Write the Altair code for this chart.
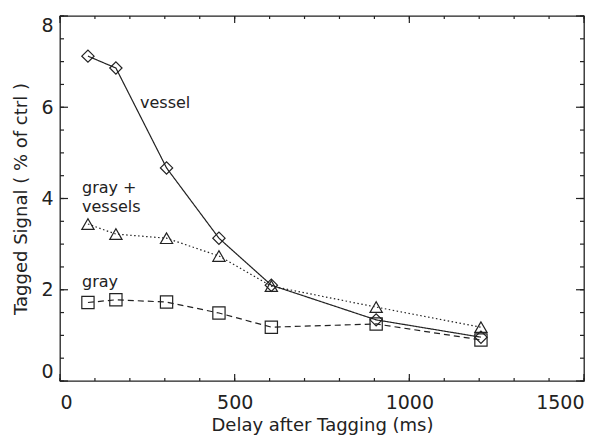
import altair as alt
import pandas as pd

# ---- data ----
delay = [80, 160, 305, 455, 605, 905, 1205]
vessel = [7.12, 6.86, 4.67, 3.13, 2.10, 1.34, 0.96]
gray_vessels = [3.44, 3.22, 3.13, 2.74, 2.08, 1.62, 1.18]
gray = [1.72, 1.78, 1.73, 1.49, 1.18, 1.25, 0.90]
series_names = ["vessel", "gray + vessels", "gray"]

note_text = ["vessel", "gray +", "vessels", "gray"]
note_x = [229, 63, 63, 63]
note_y = [6.1, 4.22, 3.82, 2.17]

x_major = [0, 500, 1000, 1500]
x_minor = [0, 100, 200, 300, 400, 500, 600, 700, 800, 900, 1000, 1100, 1200, 1300, 1400, 1500]
y_major = [0, 2, 4, 6, 8]
y_minor = [0, 0.5, 1, 1.5, 2, 2.5, 3, 3.5, 4, 4.5, 5, 5.5, 6, 6.5, 7, 7.5, 8]

INK = "#222222"
FONT = "DejaVu Sans"
W, H = 524, 365

rows = []
for name, vals in zip(series_names, [vessel, gray_vessels, gray]):
    for d, v in zip(delay, vals):
        rows.append({"series": name, "delay": d, "signal": v})
df = pd.DataFrame(rows)
notes = pd.DataFrame({"text": note_text, "x": note_x, "y": note_y})

xs = alt.Scale(domain=[0, 1500], nice=False, zero=False)
ys = alt.Scale(domain=[0, 8], nice=False, zero=False)

bottom_axis = alt.Axis(orient="bottom", values=x_major, format="d", ticks=False, domain=False, grid=False,
                       labelFontSize=19, labelPadding=12, labelColor=INK, labelFont=FONT,
                       title="Delay after Tagging (ms)", titleFontSize=18, titleFontWeight="normal",
                       titleColor=INK, titleFont=FONT, titlePadding=4)
left_axis = alt.Axis(orient="left", values=y_major, format="d", ticks=False, domain=False, grid=False,
                     labelFontSize=19, labelPadding=7, labelColor=INK, labelFont=FONT, labelFlush=True,
                     title="Tagged Signal ( % of ctrl )", titleFontSize=18, titleFontWeight="normal",
                     titleColor=INK, titleFont=FONT, titlePadding=10)

lines = alt.Chart(df).mark_line(color=INK, strokeWidth=1.2).encode(
    x=alt.X("delay:Q", scale=xs, axis=bottom_axis),
    y=alt.Y("signal:Q", scale=ys, axis=left_axis),
    strokeDash=alt.StrokeDash("series:N", scale=alt.Scale(domain=series_names,
                              range=[[1, 0], [1.5, 2.5], [6, 4]]), legend=None),
    detail="series:N",
)

points = alt.Chart(df).mark_point(filled=False, color=INK, size=150, strokeWidth=1.2, opacity=1).encode(
    x=alt.X("delay:Q", scale=xs, axis=None),
    y=alt.Y("signal:Q", scale=ys, axis=None),
    shape=alt.Shape("series:N", scale=alt.Scale(domain=series_names,
                    range=["diamond", "triangle-up", "square"]), legend=None),
)

texts = alt.Chart(notes).mark_text(align="left", baseline="middle", fontSize=16, font=FONT, color=INK).encode(
    x=alt.X("x:Q", scale=xs, axis=None),
    y=alt.Y("y:Q", scale=ys, axis=None),
    text="text:N",
)


def x_ticks(values, size):
    d = pd.DataFrame({"v": values})
    bot = alt.Chart(d).mark_rule(color=INK, strokeWidth=1.2).encode(
        x=alt.X("v:Q", scale=xs, axis=None), y=alt.value(H), y2=alt.value(H - size))
    top = alt.Chart(d).mark_rule(color=INK, strokeWidth=1.2).encode(
        x=alt.X("v:Q", scale=xs, axis=None), y=alt.value(0), y2=alt.value(size))
    return [bot, top]


def y_ticks(values, size):
    d = pd.DataFrame({"v": values})
    lft = alt.Chart(d).mark_rule(color=INK, strokeWidth=1.2).encode(
        y=alt.Y("v:Q", scale=ys, axis=None), x=alt.value(0), x2=alt.value(size))
    rgt = alt.Chart(d).mark_rule(color=INK, strokeWidth=1.2).encode(
        y=alt.Y("v:Q", scale=ys, axis=None), x=alt.value(W), x2=alt.value(W - size))
    return [lft, rgt]


ticks = x_ticks(x_minor, 3) + x_ticks(x_major, 7) + y_ticks(y_minor, 4) + y_ticks(y_major, 8)

chart = alt.layer(lines, points, texts, *ticks).resolve_axis(
    x="independent", y="independent"
).properties(
    width=W, height=H,
    autosize=alt.AutoSizeParams(type="none"),
    padding={"left": 52, "top": 8, "right": 16, "bottom": 56},
    background="white",
).configure_view(stroke=INK, strokeWidth=1.3)

chart.save("out.html", embed_options={"renderer": "svg", "actions": False})
